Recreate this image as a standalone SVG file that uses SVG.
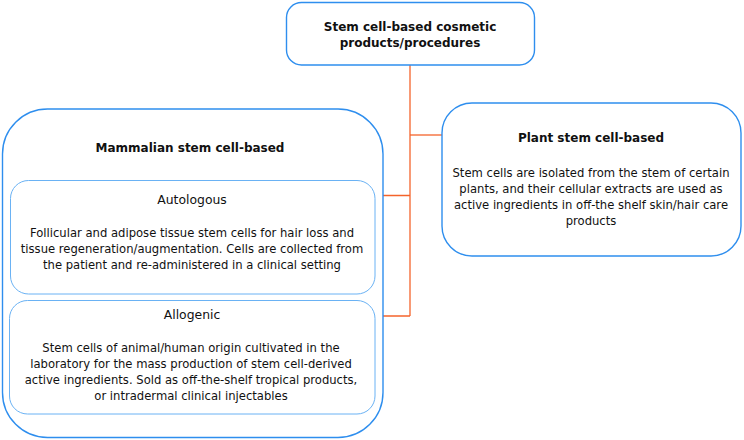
<svg xmlns="http://www.w3.org/2000/svg" width="744" height="440" viewBox="0 0 744 440">
<style>
.outer{fill:#fff;stroke:#2E8EEE;stroke-width:1.4}
.inner{fill:#fff;stroke:#6AB2F4;stroke-width:1}
.conn{fill:none;stroke:#F4632B;stroke-width:1.3}
text{font-family:"DejaVu Sans",Verdana,sans-serif;fill:#111;text-anchor:middle}
.t{font-size:12px;font-weight:bold}
.b{font-size:11.6px}
.h{font-size:12.4px}
</style>
<rect width="744" height="440" fill="#fff"/>
<g id="connectors">
<path class="conn" d="M410 65 V316"/>
<path class="conn" d="M410 135 H442"/>
<path class="conn" d="M375 195.5 H410"/>
<path class="conn" d="M375 316 H410"/>
</g>
<g id="top">
<rect class="outer" x="286.5" y="2.5" width="248" height="62.5" rx="15"/>
<text class="t" x="410" y="31">Stem cell-based cosmetic</text>
<text class="t" x="410" y="47">products/procedures</text>
</g>
<g id="plant">
<rect class="outer" x="442" y="103" width="299" height="153" rx="30"/>
<text class="t" x="591" y="142">Plant stem cell-based</text>
<text class="b" x="591" y="177">Stem cells are isolated from the stem of certain</text>
<text class="b" x="591" y="193">plants, and their cellular extracts are used as</text>
<text class="b" x="591" y="209">active ingredients in off-the shelf skin/hair care</text>
<text class="b" x="591" y="225">products</text>
</g>
<g id="mammalian">
<rect class="outer" x="2.5" y="109" width="380.5" height="328.5" rx="45"/>
<text class="t" x="190" y="152">Mammalian stem cell-based</text>
</g>
<g id="autologous">
<rect class="inner" x="10.5" y="180.5" width="364.5" height="113.5" rx="18"/>
<text class="h" x="192" y="204">Autologous</text>
<text class="b" x="192" y="237">Follicular and adipose tissue stem cells for hair loss and</text>
<text class="b" x="192" y="253">tissue regeneration/augmentation. Cells are collected from</text>
<text class="b" x="192" y="269">the patient and re-administered in a clinical setting</text>
</g>
<g id="allogenic">
<rect class="inner" x="9.5" y="300.5" width="365.5" height="113.5" rx="18"/>
<text class="h" x="192" y="319">Allogenic</text>
<text class="b" x="191" y="352">Stem cells of animal/human origin cultivated in the</text>
<text class="b" x="191" y="368">laboratory for the mass production of stem cell-derived</text>
<text class="b" x="191" y="384">active ingredients. Sold as off-the-shelf tropical products,</text>
<text class="b" x="191" y="400">or intradermal clinical injectables</text>
</g>
</svg>
